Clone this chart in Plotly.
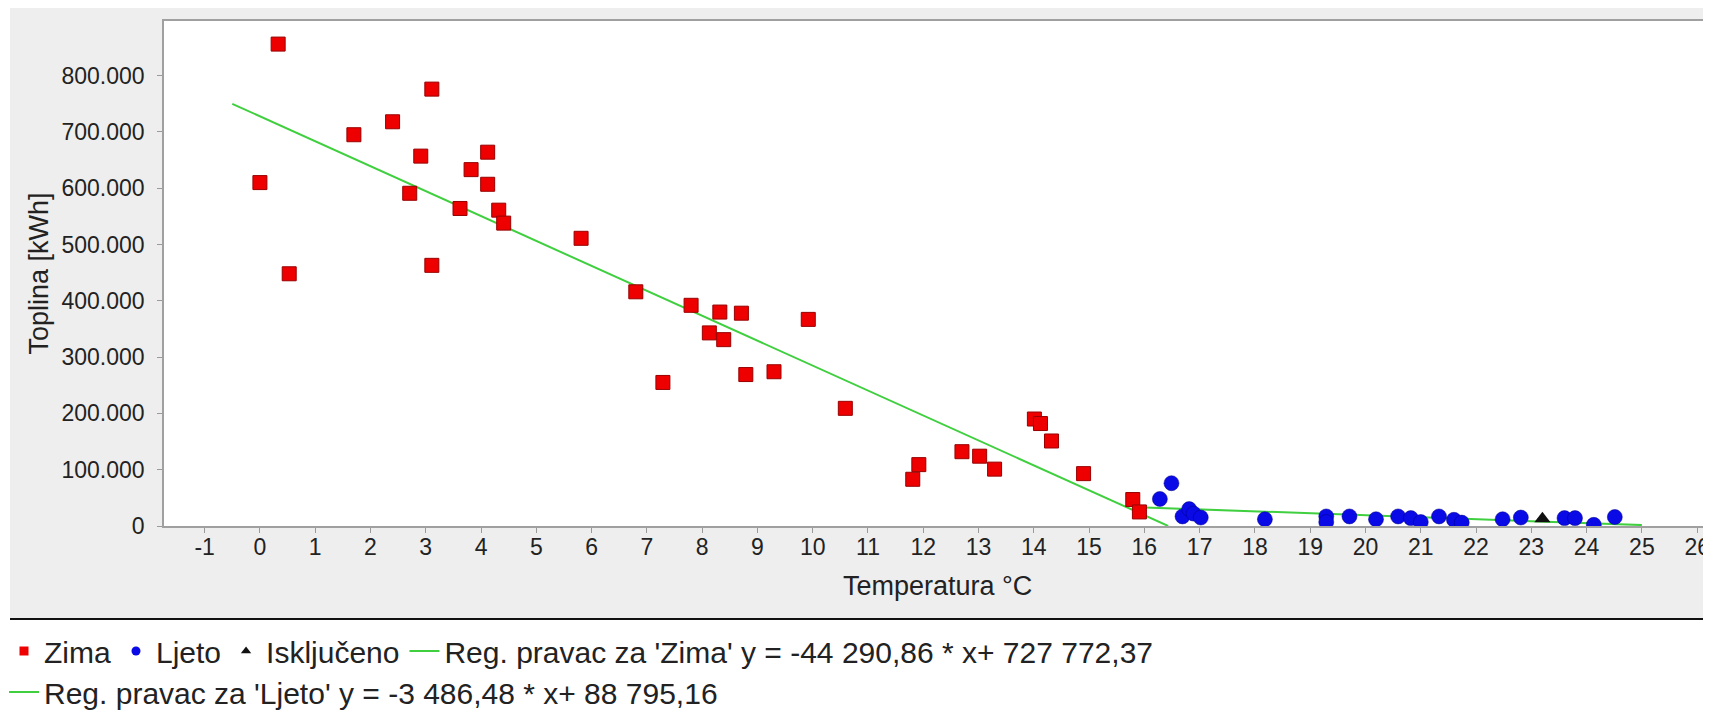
import plotly.graph_objects as go

# ---------------- data ----------------
zima_temp = [0.33, 0.00, 0.53, 1.70, 2.40, 3.11, 2.91, 2.71, 4.12, 3.82, 4.12, 3.62, 4.32,
             4.41, 5.81, 3.11, 6.80, 7.80, 8.32, 8.71, 9.92, 8.13, 8.39, 8.79, 9.30, 7.29,
             10.59, 14.01, 14.12, 14.32, 12.70, 13.02, 13.29, 11.92, 11.81, 14.90, 15.79, 15.91]
zima_heat = [856000, 610000, 448000, 695000, 718000, 776000, 657000, 591000, 664000, 633000,
             607000, 564000, 561000, 538000, 511000, 463000, 416000, 392000, 380000, 378000,
             367000, 343000, 331000, 269000, 274000, 255000, 209000, 190000, 182000, 151000,
             132000, 124000, 101000, 109000, 83000, 93000, 47000, 25000]

ljeto_temp = [16.28, 16.49, 16.69, 16.81, 16.89, 17.02, 18.18, 19.29, 19.29, 19.71, 20.19,
              20.59, 20.82, 21.00, 21.33, 21.60, 21.74, 22.48, 22.81, 23.60, 23.79, 24.13, 24.51]
ljeto_heat = [48000, 76000, 17000, 30000, 22000, 15000, 12000, 17000, 7000, 17000, 12000,
              17000, 14000, 7000, 17000, 11000, 6000, 12000, 15000, 14000, 14000, 2000, 16000]

iskljuceno_temp = [23.20]
iskljuceno_heat = [13000]

# regression coefficients (from legend) and drawn x extents
zima_slope, zima_intercept = -44290.86, 727772.37
ljeto_slope, ljeto_intercept = -3486.48, 88795.16
zima_line_x = [-0.5, 16.43]
ljeto_line_x = [16.0, 25.0]

x_ticks = list(range(-1, 27))
x_tick_labels = [str(v) for v in x_ticks]
y_ticks = [0, 100000, 200000, 300000, 400000, 500000, 600000, 700000, 800000]
y_tick_labels = ["0", "100.000", "200.000", "300.000", "400.000",
                 "500.000", "600.000", "700.000", "800.000"]

names = ["Zima", "Ljeto", "Isključeno",
         "Reg. pravac za 'Zima' y = -44 290,86 * x+ 727 772,37",
         "Reg. pravac za 'Ljeto' y = -3 486,48 * x+ 88 795,16"]

RED, BLUE, BLACK, GREEN = "#ee0000", "#0a0ae6", "#111111", "#3fcf3f"
FONT = "Liberation Sans, Arial, sans-serif"
TXT = "#222222"

fig = go.Figure()

# regression lines
fig.add_trace(go.Scatter(x=zima_line_x, y=[zima_slope * v + zima_intercept for v in zima_line_x],
                         mode="lines", line=dict(color=GREEN, width=2), showlegend=False,
                         name=names[3]))
fig.add_trace(go.Scatter(x=ljeto_line_x, y=[ljeto_slope * v + ljeto_intercept for v in ljeto_line_x],
                         mode="lines", line=dict(color=GREEN, width=2), showlegend=False,
                         name=names[4]))

# scatter series
fig.add_trace(go.Scatter(x=zima_temp, y=zima_heat, mode="markers", name=names[0], showlegend=False,
                         marker=dict(symbol="square", size=14, color=RED,
                                     line=dict(color="#990000", width=1))))
fig.add_trace(go.Scatter(x=ljeto_temp, y=ljeto_heat, mode="markers", name=names[1], showlegend=False,
                         marker=dict(symbol="circle", size=15, color=BLUE,
                                     line=dict(color="#00008a", width=0.5))))
fig.add_trace(go.Scatter(x=iskljuceno_temp, y=iskljuceno_heat, mode="markers", name=names[2],
                         showlegend=False,
                         marker=dict(symbol="triangle-up", size=14, color=BLACK)))

# legend entries (small symbols as in the reference); row 1 -> legend, row 2 -> legend2
fig.add_trace(go.Scatter(x=[None], y=[None], mode="markers", name=names[0], legend="legend",
                         marker=dict(symbol="square", size=9, color=RED)))
fig.add_trace(go.Scatter(x=[None], y=[None], mode="markers", name=names[1], legend="legend",
                         marker=dict(symbol="circle", size=9, color=BLUE)))
fig.add_trace(go.Scatter(x=[None], y=[None], mode="markers", name=names[2], legend="legend",
                         marker=dict(symbol="triangle-up", size=9, color=BLACK)))
fig.add_trace(go.Scatter(x=[None], y=[None], mode="lines", name=names[3], legend="legend",
                         line=dict(color=GREEN, width=2)))
fig.add_trace(go.Scatter(x=[None], y=[None], mode="lines", name=names[4], legend="legend2",
                         line=dict(color=GREEN, width=2)))

# figure is drawn 8px in from the page corner (page body margin)
W, H = 1703, 713
L, R, T, B = 156, 1703, 13, 518          # plot area in figure pixels
def px(X):                                # figure px -> paper x
    return (X - L) / (R - L)
def py(Y):                                # figure px -> paper y
    return (B - Y) / (B - T)

legend_common = dict(orientation="h", xanchor="left", yanchor="middle",
                     font=dict(size=30, color=TXT, family=FONT), bgcolor="rgba(0,0,0,0)",
                     itemwidth=30, traceorder="normal")

fig.update_layout(
    width=W, height=H,
    margin=dict(l=L, r=W - R, t=T, b=H - B, pad=0, autoexpand=False),
    paper_bgcolor="#eeeeee", plot_bgcolor="white",
    font=dict(family=FONT, color=TXT),
    xaxis=dict(range=[-1.735, 26.25], tickmode="array", tickvals=x_ticks, ticktext=x_tick_labels,
               showline=True, linecolor="#a0a0a0", linewidth=1.5, mirror=True,
               ticks="outside", ticklen=5, tickcolor="#9a9a9a", showgrid=False, zeroline=False,
               tickfont=dict(size=23, color=TXT), ticklabelstandoff=-5,
               ticklabeloverflow="allow"),
    yaxis=dict(range=[0, 897000], tickmode="array", tickvals=y_ticks, ticktext=y_tick_labels,
               showline=True, linecolor="#a0a0a0", linewidth=1.5,
               ticks="outside", ticklen=5, tickcolor="#9a9a9a", showgrid=False, zeroline=False,
               tickfont=dict(size=23, color=TXT), ticklabelstandoff=8),
    legend=dict(x=px(-4), y=py(643), **legend_common),
    legend2=dict(x=px(-4), y=py(684), **legend_common),
    shapes=[
        # white strips outside the gray chart panel
        dict(type="rect", xref="paper", yref="paper", x0=px(-5), x1=px(2), y0=py(720), y1=py(-5),
             fillcolor="white", line=dict(width=0), layer="below"),
        dict(type="rect", xref="paper", yref="paper", x0=px(-5), x1=1.02, y0=py(720), y1=py(611),
             fillcolor="white", line=dict(width=0), layer="below"),
        dict(type="line", xref="paper", yref="paper", x0=px(2), x1=1.02, y0=py(611), y1=py(611),
             line=dict(color="#111111", width=2), layer="below"),
    ],
    annotations=[
        dict(text="Toplina [kWh]", xref="paper", yref="paper", x=px(30), y=0.5,
             xanchor="center", yanchor="middle", textangle=-90, showarrow=False,
             font=dict(size=27, color=TXT, family=FONT)),
        dict(text="Temperatura °C", xref="paper", yref="paper", x=0.5, y=py(578),
             xanchor="center", yanchor="middle", showarrow=False,
             font=dict(size=27, color=TXT, family=FONT)),
    ],
)

fig.write_html("out.html")
